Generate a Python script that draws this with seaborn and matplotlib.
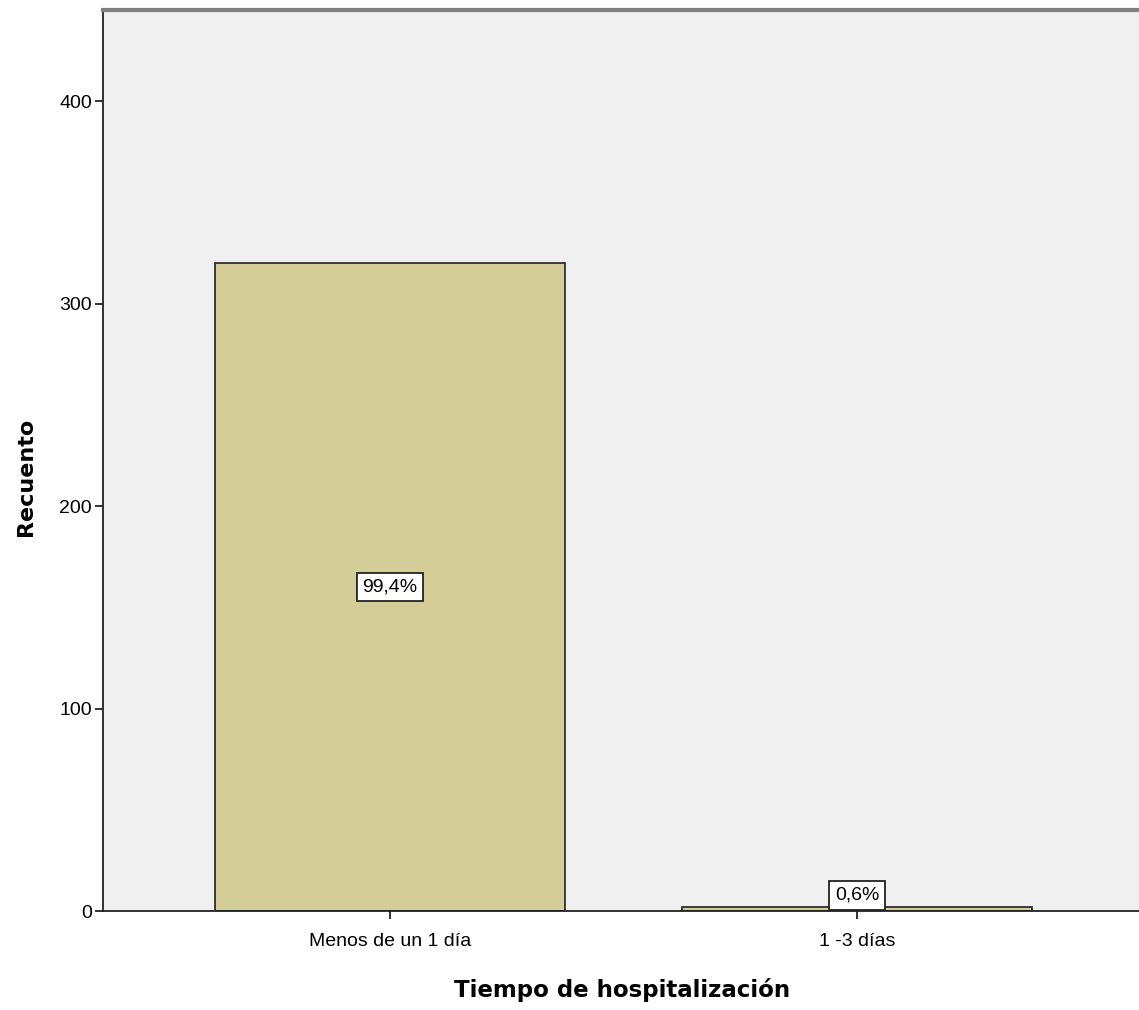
import pandas as pd
import seaborn as sns
import matplotlib.pyplot as plt

# datos del grafico
categorias = ["Menos de un 1 día", "1 -3 días"]
recuentos = [320, 2]
yticks = [0, 100, 200, 300, 400]

df = pd.DataFrame({"tiempo": categorias, "recuento": recuentos})
total = sum(recuentos)

sns.set_style("ticks")
plt.rcParams['font.family'] = ['Liberation Sans', 'DejaVu Sans']

fig = plt.figure(figsize=(11.39, 10.10), dpi=100)
ax = fig.add_axes([0.0904, 0.098, 0.912, 0.892])
ax.set_facecolor("#F0F0F0")

sns.barplot(data=df, x="tiempo", y="recuento", color="#D3CD98", saturation=1,
            width=0.75, edgecolor="#222222", linewidth=1.2, ax=ax)

# etiquetas de porcentaje
for i, n in enumerate(recuentos):
    pct = f"{100 * n / total:.1f}".replace(".", ",") + "%"
    if n > 30:
        y, va = n / 2, "center"
    else:
        y, va = n + 1.5, "bottom"
    ax.text(i, y, pct, ha="center", va=va, fontsize=14, color="black",
            bbox=dict(boxstyle="square,pad=0.3", facecolor="white", edgecolor="#222222", linewidth=1.3))

ax.set_xlim(-0.615, 1.61)
ax.set_ylim(0, 445)
ax.set_yticks(yticks)
ax.tick_params(axis="both", labelsize=14, length=6, width=1.3, color="#222222", labelcolor="black")
ax.tick_params(axis="x", pad=10)
ax.tick_params(axis="y", pad=2)
ax.set_xlabel("Tiempo de hospitalización", fontsize=16.5, fontweight="bold", family="DejaVu Sans",
              color="black", labelpad=20)
ax.set_ylabel("Recuento", fontsize=16, fontweight="bold", family="DejaVu Sans", color="black")
ax.yaxis.set_label_coords(-0.064, 0.482)

for s in ["left", "bottom"]:
    ax.spines[s].set_color("#222222")
    ax.spines[s].set_linewidth(1.3)
ax.spines["top"].set_color("#808080")
ax.spines["top"].set_linewidth(3)
ax.spines["right"].set_visible(False)

fig.savefig("out.png", dpi=100)
